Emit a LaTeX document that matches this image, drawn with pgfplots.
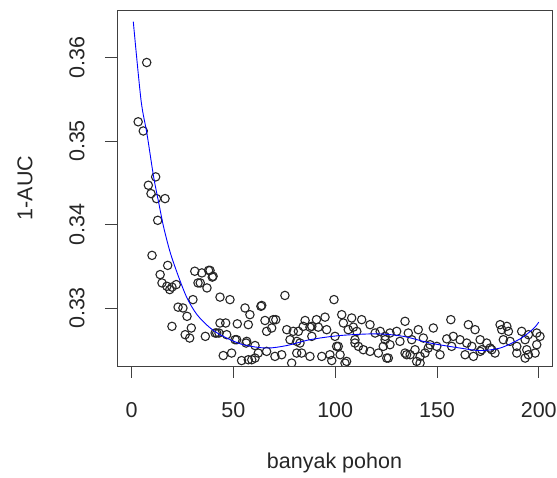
\documentclass[border=0pt]{standalone}
\usepackage{pgfplots}
\pgfplotsset{compat=1.18}
\usepackage{fontspec}
\setmainfont{Liberation Sans}
\begin{document}
\fontsize{21.5}{25}\selectfont
\begin{tikzpicture}
\useasboundingbox (-117pt,-112pt) rectangle (440pt,366pt);
\begin{axis}[
  at={(0,0)}, anchor=south west,
  scale only axis, width=435pt, height=356pt,
  xmin=-7.2, xmax=206.5, ymin=0.32305, ymax=0.36569,
  xtick={0,50,100,150,200},
  ytick={0.33,0.34,0.35,0.36},
  yticklabels={0.33,0.34,0.35,0.36},
  xtick pos=bottom, ytick pos=left,
  tick align=outside, major tick length=12pt,
  every tick/.style={black!75, line width=0.9pt},
  axis line style={black!75, line width=0.9pt},
  /pgf/number format/assume math mode=true,
  scaled y ticks=false,
  xticklabel style={anchor=center, yshift=-32pt, text=black!85},
  yticklabel style={xshift=-28pt, rotate=90, anchor=center, text=black!85},
  xlabel={banyak pohon}, ylabel={1-AUC},
  xlabel style={at={(axis description cs:0.5,-0.2725)}, anchor=center, text=black!85},
  ylabel style={at={(axis description cs:-0.2115,0.5)}, anchor=center, text=black!85},
  clip marker paths=true,
]
\addplot[only marks, mark=o, mark size=4.2pt, mark options={line width=1.1pt, draw=black!85}] coordinates {
(3.2,.3523)(5.7,.3512)(7.4,.3594)(8.2,.3447)(9.5,.3437)(10,.3363)(11.8,.3457)(12.2,.3431)(12.8,.3405)(14,.3340)(14.9,.3330)(16.4,.3431)(17.7,.3351)(17.3,.3326)(18.7,.3322)(19.8,.3325)(19.8,.3278)(21.9,.3328)(22.8,.3301)(25.2,.3300)(26.3,.3268)(27.2,.3290)(28.5,.3264)(29.3,.3276)(30.1,.3310)(31,.3344)(32.6,.3330)(33.7,.3330)(34.5,.3342)(36.2,.3266)(37,.3324)(37.8,.3345)(38.5,.3345)(39.6,.3337)(40,.3338)
(41,.3270)(41.8,.3270)(42.9,.3270)(43.4,.3282)(43.4,.3313)(45,.3243)(46.2,.3282)(46.7,.3268)(48.3,.3310)(49.1,.3246)(50.8,.3262)(51.6,.3262)(51.9,.3281)(54,.3237)(55.7,.3300)(56.2,.3258)(56.5,.3260)(57.3,.3280)(57.3,.3238)(58.1,.3292)(59,.3238)(60.6,.3255)(60.6,.3240)(62.2,.3246)(63.5,.3302)(63.9,.3303)(65.5,.3285)(66.3,.3272)(66.3,.3248)(68.8,.3276)(69.6,.3286)(70.4,.3242)(70.8,.3286)(73.7,.3244)(75.3,.3315)(76.2,.3274)(77.8,.3262)(78.6,.3234)(79.4,.3272)(81.1,.3260)(81.1,.3246)(81.9,.3272)(82.7,.3258)(83.5,.3246)(84.3,.3278)(85.2,.3285)(87.6,.3277)(87.6,.3242)(88.5,.3266)(88.5,.3278)(90.8,.3286)(91.7,.3277)(93.4,.3242)(95,.3289)(95.8,.3274)(97.4,.3244)(98.3,.3237)(99.4,.3310)(99.9,.3266)(100.7,.3254)
(101.5,.3254)(102.4,.3244)(103.2,.3292)(104,.3282)(104.8,.3234)(105.6,.3236)(106.4,.3274)(108.1,.3288)(108.9,.3277)(109.7,.3262)(109.7,.3258)(110.6,.3272)(111.4,.3254)(113,.3286)(113.8,.3250)(117.1,.3280)(117.1,.3248)(119.6,.3270)(121.2,.3246)(122.1,.3272)(123.6,.3254)(124.5,.3266)(125.3,.3240)
(124.5,.3262)(126.1,.3240)(126.9,.3256)(126.9,.3270)(130.2,.3272)(131.8,.3260)(134.3,.3284)(134.3,.3246)(135.1,.3244)(135.9,.3270)(136.8,.3244)(137.6,.3262)(139.2,.3250)(140,.3236)(140.8,.3274)(141.7,.3242)(141.7,.3234)(143.3,.3264)(144.1,.3246)(145.7,.3252)(146.6,.3256)(148.2,.3276)(149.9,.3254)(151.5,.3244)(154.8,.3263)(156.8,.3286)(157.2,.3254)(158,.3266)(161.3,.3262)(163.8,.3244)(164.6,.3258)(165.4,.3280)(167.1,.3254)(167.9,.3242)(168.7,.3274)(171.2,.3262)(171.2,.3248)(172,.3250)(174.4,.3258)(176.1,.3252)(176.9,.3250)(178.5,.3246)(181,.3280)(181.8,.3274)(182.6,.3262)(184.3,.3278)(185.1,.3272)(185.9,.3260)(189.2,.3254)(189.2,.3246)(191.6,.3272)(193.3,.3262)(193.3,.3240)(194.1,.3250)(194.9,.3268)(194.9,.3244)(198.2,.3246)(199,.3256)(199,.3270)(200.6,.3266)
(43.5,.3229)(53,.3230)(58,.3229)(63,.3230)(68,.3229)(73,.3230)(80,.3229)(87,.3230)(93,.3229)(104,.3229)(122,.3230)(135,.3229)(151,.3230)(166,.3229)(173,.3230)(192,.3229)
};
\addplot[blue, line width=0.9pt, smooth] coordinates {
(0.8,.3643)(4.6,.3549)(7.5,.3509)(10.8,.3457)(13.3,.3426)(15.7,.3397)(19,.3366)(23.1,.3337)(27.2,.3312)(32.1,.3292)(38.6,.3276)(45,.3266)(54.8,.3256)(66.3,.3252)(76.2,.3255)(87.6,.3262)(102.4,.3267)(120.4,.3269)(133.5,.3266)(146.6,.3258)(161.3,.3252)(171.2,.3249)(181,.3252)(190.8,.3263)(197.3,.3275)(200,.3283)
};
\end{axis}
\end{tikzpicture}
\end{document}
